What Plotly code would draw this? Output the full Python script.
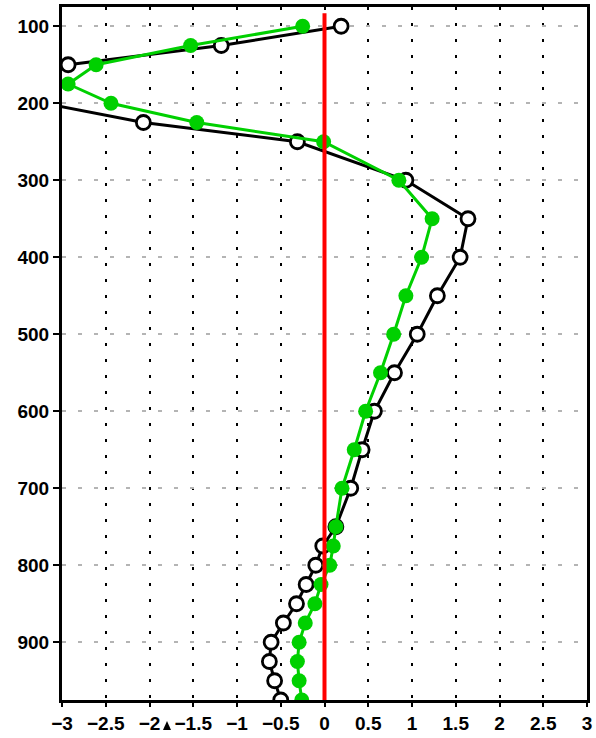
import plotly.graph_objects as go

# Pressure levels (hPa)
levels = [100, 125, 150, 175, 200, 225, 250, 300, 350, 400, 450, 500, 550,
          600, 650, 700, 750, 775, 800, 825, 850, 875, 900, 925, 950, 975]

# Profile values for each level
black_vals = [0.19, -1.18, -2.93, -3.6, -3.2, -2.07, -0.31, 0.93, 1.64, 1.55,
              1.29, 1.06, 0.80, 0.57, 0.43, 0.30, 0.13, -0.02, -0.10, -0.21,
              -0.32, -0.47, -0.61, -0.63, -0.57, -0.50]
green_vals = [-0.25, -1.53, -2.61, -2.93, -2.44, -1.46, -0.01, 0.85, 1.23, 1.11,
              0.93, 0.79, 0.64, 0.47, 0.34, 0.20, 0.13, 0.10, 0.06, -0.04,
              -0.11, -0.22, -0.29, -0.31, -0.29, -0.26]

# Zero reference line
zero_x = [0, 0]
zero_y = [83, 975]

x_ticks = [-3, -2.5, -2, -1.5, -1, -0.5, 0, 0.5, 1, 1.5, 2, 2.5, 3]
y_ticks = [100, 200, 300, 400, 500, 600, 700, 800, 900]

# Small pointer below the x axis
pointer_x = -1.8

fig = go.Figure()

fig.add_trace(go.Scatter(
    x=black_vals, y=levels, mode="lines+markers",
    line=dict(color="black", width=3),
    marker=dict(symbol="circle", size=14, color="white",
                line=dict(color="black", width=2.8)),
    cliponaxis=True, showlegend=False,
))

fig.add_trace(go.Scatter(
    x=green_vals, y=levels, mode="lines+markers",
    line=dict(color="#00d000", width=3),
    marker=dict(symbol="circle", size=15, color="#00d000"),
    cliponaxis=True, showlegend=False,
))

fig.add_trace(go.Scatter(
    x=zero_x, y=zero_y, mode="lines",
    line=dict(color="#ff0000", width=4),
    showlegend=False,
))

font = dict(family="Liberation Sans, Arial, sans-serif", size=19,
            color="black", weight="bold")

fig.update_xaxes(
    range=[-3, 3], tickvals=x_ticks,
    showline=True, mirror=True, linecolor="black", linewidth=3,
    ticks="outside", ticklen=4, tickwidth=2, tickcolor="black",
    showgrid=True, gridcolor="black", gridwidth=2, griddash="3px,13px",
    zeroline=False, tickfont=font,
)
fig.update_yaxes(
    range=[975, 75], tickvals=y_ticks,
    showline=True, mirror=True, linecolor="black", linewidth=3,
    ticks="outside", ticklen=6, tickwidth=2, tickcolor="black",
    showgrid=True, gridcolor="#b4b4b4", gridwidth=2, griddash="4px,12px",
    zeroline=False, tickfont=font,
)

# Triangle pointer, sized in pixels and anchored at pointer_x under the axis
fig.add_shape(
    type="path", xref="x", yref="paper",
    xsizemode="pixel", xanchor=pointer_x,
    ysizemode="pixel", yanchor=0,
    path="M -4,-30 L 4,-30 L 0,-21 Z",
    fillcolor="black", line=dict(color="black", width=0),
    layer="above",
)

fig.update_layout(
    width=596, height=738,
    margin=dict(l=62, r=9, t=4, b=32),
    plot_bgcolor="white", paper_bgcolor="white",
)

fig.write_html("out.html")
